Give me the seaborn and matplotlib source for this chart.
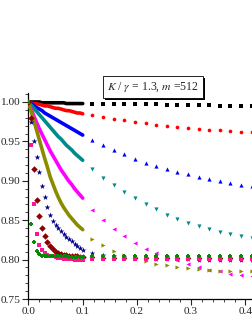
import numpy as np
import pandas as pd
import matplotlib
matplotlib.use("Agg")
import matplotlib.pyplot as plt
import matplotlib.patheffects as pe
import seaborn as sb

# x positions: dense part 0..0.1, sparse part after it
x_dense = [0.000, 0.005, 0.010, 0.015, 0.020, 0.025, 0.030, 0.035, 0.040, 0.045, 0.050,
           0.055, 0.060, 0.065, 0.070, 0.075, 0.080, 0.085, 0.090, 0.095, 0.100]
x_sparse = [0.118, 0.137, 0.157, 0.176, 0.196, 0.216, 0.235, 0.255,
            0.274, 0.294, 0.314, 0.333, 0.353, 0.372, 0.392, 0.412]

black_dense = [1.000, 1.000, 1.000, 1.000, 1.000, 0.999, 0.999, 0.999, 0.999, 0.999, 0.999,
               0.999, 0.999, 0.999, 0.998, 0.998, 0.998, 0.998, 0.998, 0.998, 0.998]
black_sparse = [0.998, 0.998, 0.998, 0.997, 0.997, 0.997, 0.997, 0.996,
                0.996, 0.996, 0.996, 0.996, 0.995, 0.995, 0.995, 0.995]

red_dense = [1.000, 0.999, 0.998, 0.998, 0.997, 0.996, 0.995, 0.995, 0.994, 0.993, 0.992,
             0.992, 0.991, 0.990, 0.989, 0.989, 0.988, 0.987, 0.986, 0.986, 0.985]
red_sparse = [0.983, 0.981, 0.978, 0.977, 0.975, 0.973, 0.971, 0.970,
              0.968, 0.967, 0.966, 0.964, 0.964, 0.963, 0.962, 0.962]

blue_dense = [1.000, 0.998, 0.995, 0.993, 0.991, 0.989, 0.986, 0.984, 0.982, 0.980, 0.978,
              0.976, 0.974, 0.972, 0.970, 0.968, 0.966, 0.964, 0.962, 0.960, 0.958]
blue_sparse = [0.952, 0.945, 0.939, 0.934, 0.928, 0.923, 0.919, 0.915,
               0.911, 0.908, 0.905, 0.902, 0.900, 0.897, 0.895, 0.893]

teal_dense = [1.000, 0.996, 0.992, 0.988, 0.984, 0.980, 0.976, 0.972, 0.968, 0.964, 0.960,
              0.956, 0.953, 0.949, 0.945, 0.942, 0.939, 0.935, 0.932, 0.929, 0.926]
teal_sparse = [0.915, 0.904, 0.895, 0.886, 0.878, 0.871, 0.864, 0.857,
               0.852, 0.847, 0.843, 0.839, 0.835, 0.833, 0.830, 0.828]

magenta_dense = [1.000, 0.991, 0.982, 0.974, 0.966, 0.959, 0.952, 0.945, 0.938, 0.932, 0.926,
                 0.920, 0.914, 0.909, 0.904, 0.899, 0.895, 0.890, 0.886, 0.882, 0.878]
magenta_sparse = [0.863, 0.850, 0.839, 0.830, 0.821, 0.814, 0.808, 0.803,
                  0.799, 0.795, 0.790, 0.787, 0.785, 0.782, 0.780, 0.779]

olive_dense = [1.000, 0.988, 0.976, 0.964, 0.952, 0.940, 0.928, 0.917, 0.905, 0.896, 0.887,
               0.879, 0.872, 0.866, 0.861, 0.856, 0.852, 0.848, 0.844, 0.841, 0.838]
olive_sparse = [0.826, 0.818, 0.811, 0.806, 0.801, 0.798, 0.795, 0.793,
                0.791, 0.789, 0.788, 0.787, 0.786, 0.786, 0.786, 0.786]

navy_dense = [1.000, 0.975, 0.950, 0.930, 0.911, 0.894, 0.879, 0.867, 0.857, 0.849, 0.844,
              0.840, 0.836, 0.832, 0.829, 0.826, 0.823, 0.820, 0.817, 0.815, 0.812]
navy_sparse = [0.808, 0.806, 0.804, 0.803, 0.802, 0.802, 0.801, 0.801,
               0.801, 0.801, 0.800, 0.800, 0.800, 0.800, 0.800, 0.800]

maroon_dense = [1.000, 0.980, 0.915, 0.875, 0.855, 0.840, 0.830, 0.822, 0.817, 0.813, 0.810,
                0.808, 0.807, 0.806, 0.806, 0.805, 0.805, 0.804, 0.804, 0.803, 0.803]
maroon_sparse = [0.803, 0.802, 0.802, 0.802, 0.802, 0.802, 0.802, 0.802,
                 0.802, 0.802, 0.802, 0.802, 0.802, 0.802, 0.802, 0.802]

pink_dense = [1.000, 0.945, 0.870, 0.832, 0.818, 0.812, 0.809, 0.806, 0.805, 0.804, 0.803,
              0.802, 0.802, 0.801, 0.801, 0.801, 0.801, 0.800, 0.800, 0.800, 0.800]
pink_sparse = [0.801, 0.801, 0.801, 0.801, 0.801, 0.801, 0.801, 0.801,
               0.801, 0.801, 0.801, 0.801, 0.801, 0.801, 0.801, 0.801]

green_dense = [1.000, 0.845, 0.822, 0.811, 0.807, 0.805, 0.804, 0.804, 0.804, 0.804, 0.804,
               0.804, 0.804, 0.804, 0.804, 0.803, 0.803, 0.803, 0.803, 0.803, 0.803]
green_sparse = [0.804, 0.804, 0.804, 0.804, 0.804, 0.804, 0.804, 0.804,
                0.804, 0.804, 0.804, 0.804, 0.804, 0.804, 0.804, 0.804]

# colour, marker, marker size, dense data, sparse data, dense drawn as a band?
series = [
    ("black", "s", 6, black_dense, black_sparse, True),
    ("red", "o", 7, red_dense, red_sparse, True),
    ("blue", "^", 9, blue_dense, blue_sparse, True),
    ("#008b8b", "v", 9, teal_dense, teal_sparse, True),
    ("magenta", "<", 9, magenta_dense, magenta_sparse, True),
    ("#8b8b00", ">", 9, olive_dense, olive_sparse, True),
    ("#00008b", "*", 16, navy_dense, navy_sparse, False),
    ("#8b0000", "D", 8, maroon_dense, maroon_sparse, False),
    ("#ff1493", "s", 7, pink_dense, pink_sparse, False),
    ("#008b00", "P", 9, green_dense, green_sparse, False),
]

sb.set_style("ticks")
plt.rcParams["font.family"] = ["Liberation Serif", "DejaVu Serif"]
plt.rcParams["mathtext.fontset"] = "stix"

fig = plt.figure(figsize=(2.53, 3.27), dpi=100)
ax = fig.add_axes([0.1126, 0.0856, 0.8874, 0.630])

for color, marker, size, dense, sparse, band in series:
    if band:
        sb.lineplot(x=x_dense, y=dense, color=color, linewidth=2.6, ax=ax, zorder=3)
    else:
        sb.scatterplot(x=x_dense, y=dense, color=color, marker=marker, s=size + 3,
                       linewidth=0, ax=ax, zorder=3)
    sb.scatterplot(x=x_sparse, y=sparse, color=color, marker=marker, s=size,
                   linewidth=0, ax=ax, zorder=3)

ax.set_xlim(0, 0.414)
ax.set_ylim(0.75, 1.0114)
ax.set_xticks([0.0, 0.1, 0.2, 0.3, 0.4])
ax.set_xticklabels(["0.0", "0.1", "0.2", "0.3", "0.4"])
ax.set_yticks([0.75, 0.80, 0.85, 0.90, 0.95, 1.00])
ax.set_yticklabels(["0.75", "0.80", "0.85", "0.90", "0.95", "1.00"])
ax.set_xticks(np.arange(0, 0.42, 0.02), minor=True)
ax.set_yticks(np.arange(0.75, 1.011, 0.01), minor=True)
ax.tick_params(which="major", direction="out", length=4, width=0.8, labelsize=8.2, pad=2)
ax.tick_params(which="minor", direction="out", length=2, width=0.6)
sb.despine(ax=ax)
for sp in ["left", "bottom"]:
    ax.spines[sp].set_linewidth(0.9)
    ax.spines[sp].set_color("black")

label = r"$K$ / $\gamma$ = 1.3, $m$ =512"
t = fig.text(0.603, 0.734, label, fontsize=8.5, ha="center", va="center",
             bbox=dict(boxstyle="square,pad=0.35", facecolor="white", edgecolor="black", linewidth=0.6))
fig.canvas.draw()
t.get_bbox_patch().set_path_effects([
    pe.SimplePatchShadow(offset=(1.5, -1.5), shadow_rgbFace="black", alpha=1.0),
    pe.Normal(),
])

plt.savefig("out.png", dpi=100)
